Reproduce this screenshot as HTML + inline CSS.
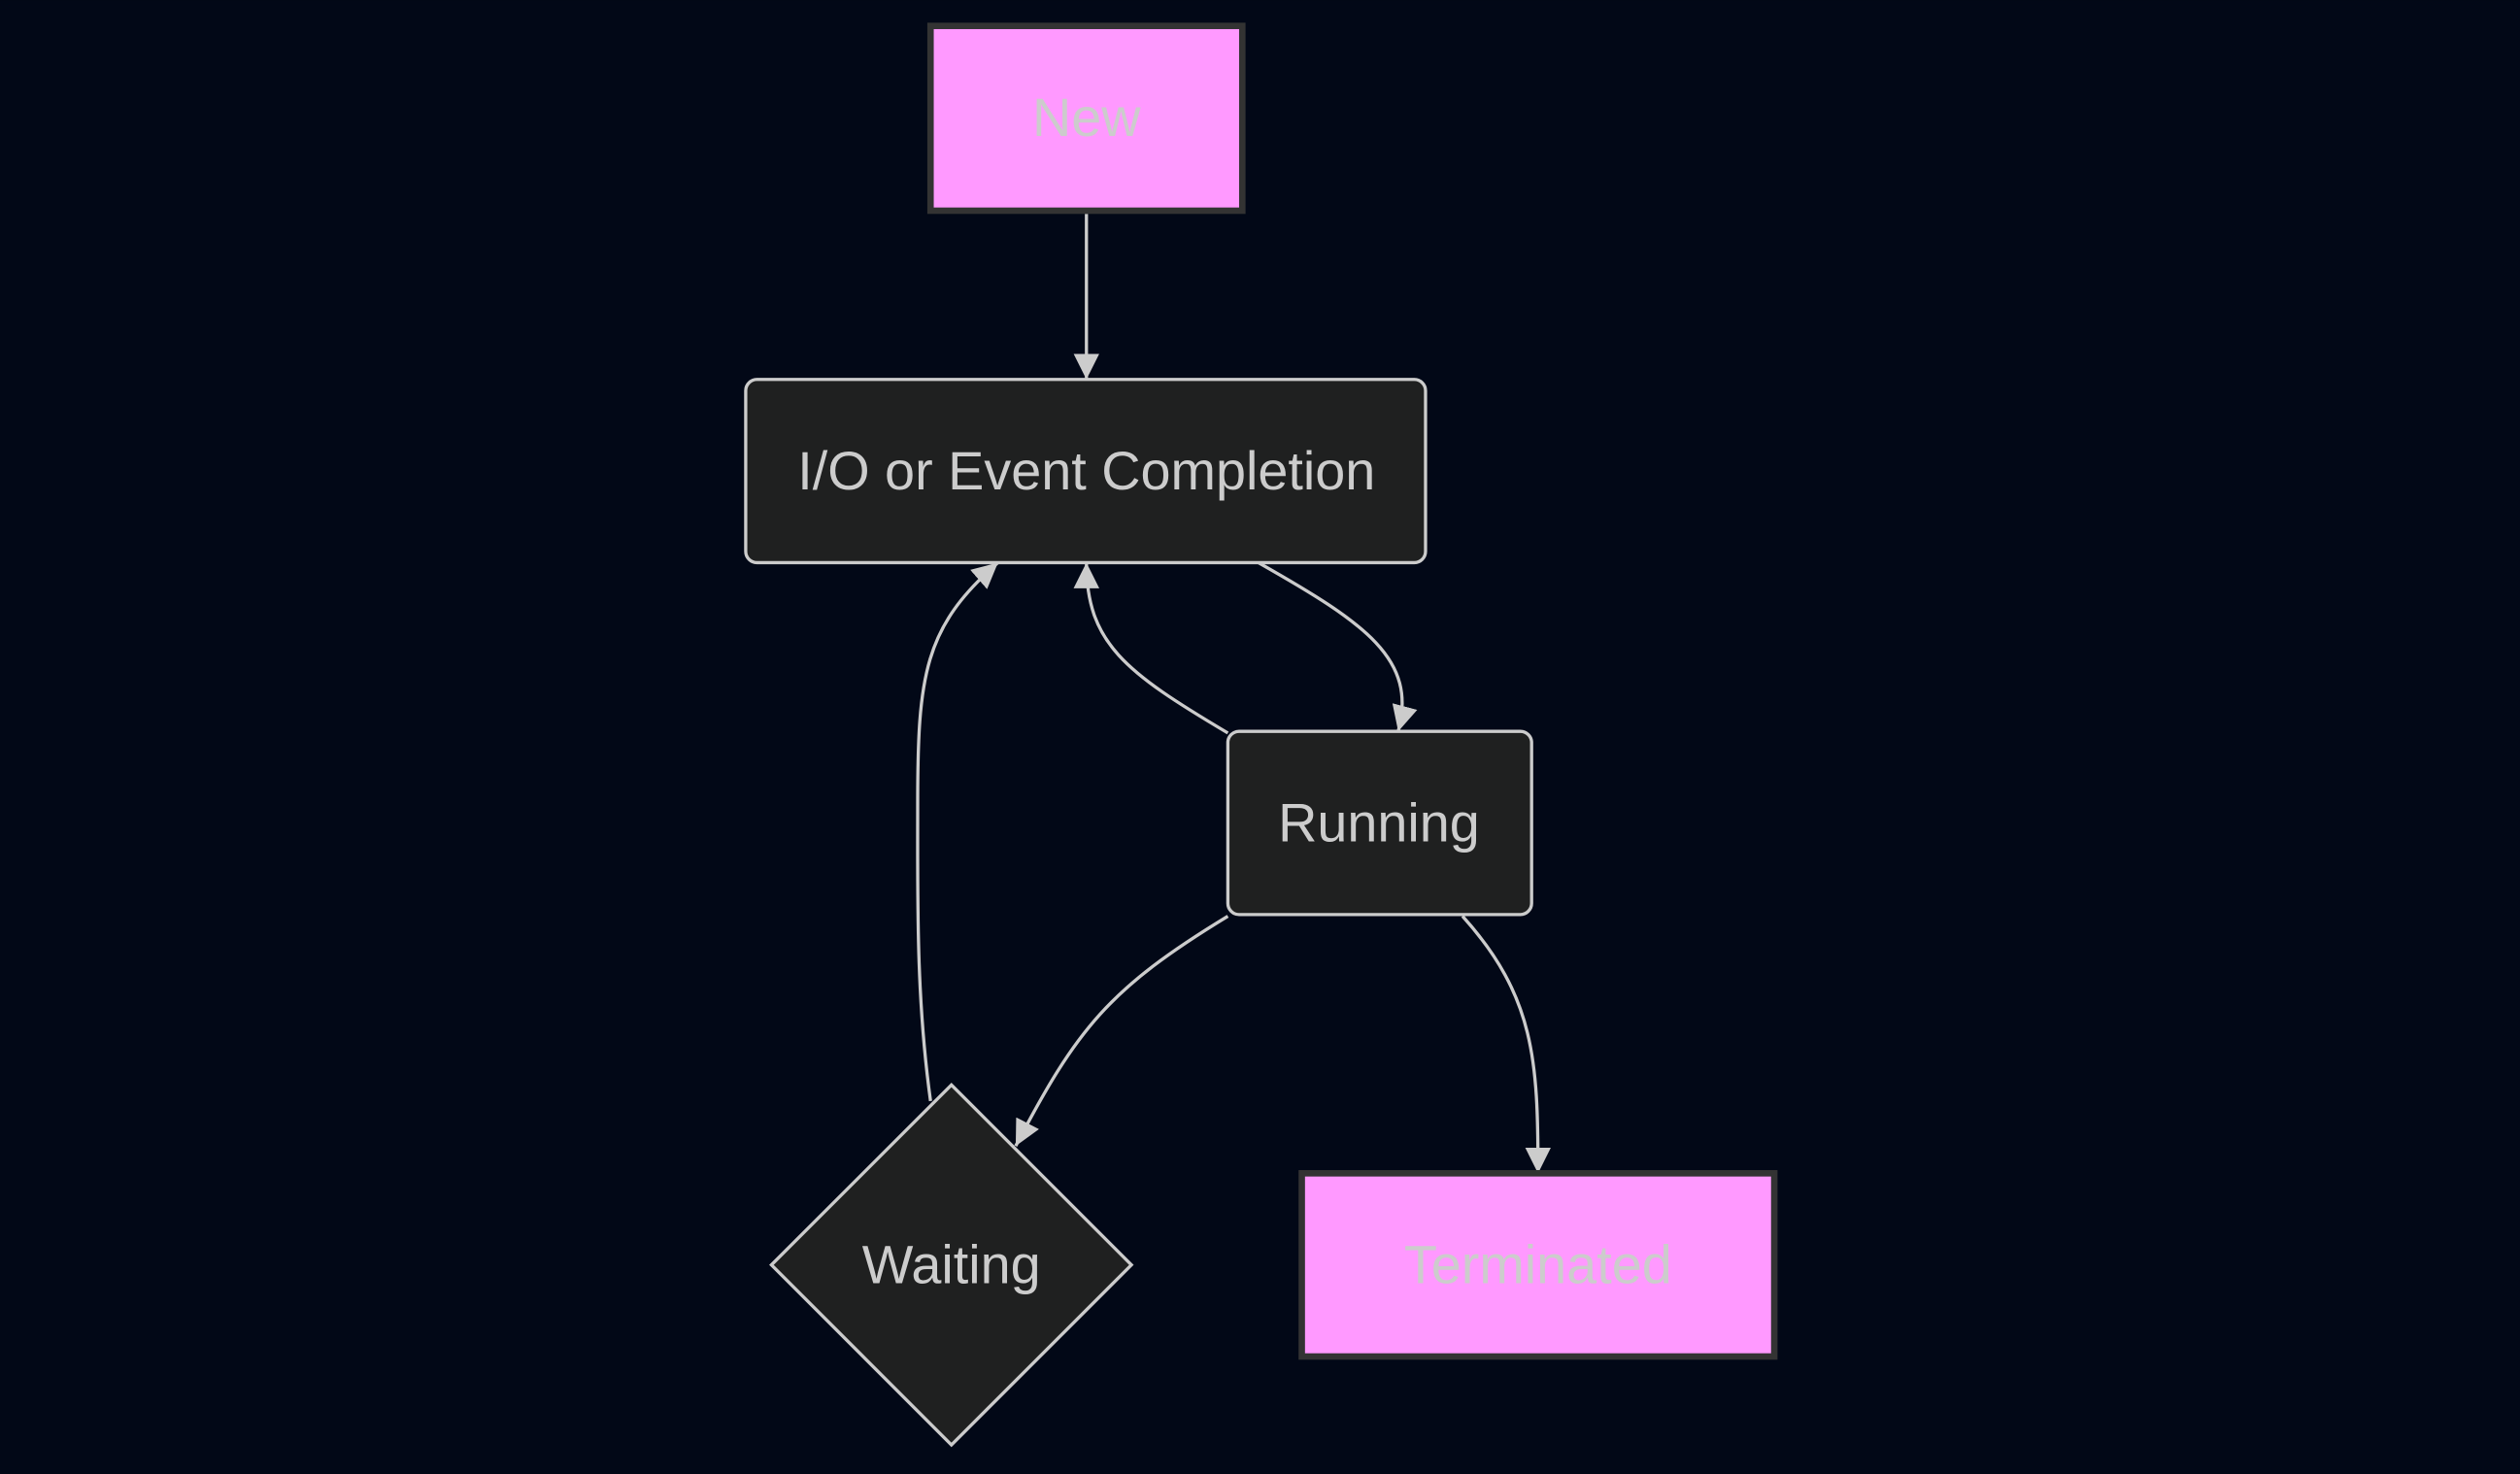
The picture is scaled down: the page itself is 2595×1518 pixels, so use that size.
<!DOCTYPE html>
<html><head><meta charset="utf-8"><style>
html,body{margin:0;padding:0;background:#020817;}
svg{display:block;}
text{font-family:"Liberation Sans",Arial,sans-serif;font-size:33.7px;fill:#cccccc;text-anchor:middle;dominant-baseline:central;}
</style></head><body>
<svg width="2595" height="1518" viewBox="0 0 1568 917" xmlns="http://www.w3.org/2000/svg">
<defs>
<marker id="b" viewBox="0 0 10 10" refX="10" refY="5" markerWidth="16" markerHeight="16" markerUnits="userSpaceOnUse" orient="auto"><path d="M0,0L10,5L0,10z" fill="#cccccc"/></marker></defs>
<rect width="1568" height="917" fill="#020817"/>
<g fill="none" stroke="#cccccc" stroke-width="2">
<path d="M676,133 L676,236" marker-end="url(#b)"/>
<path d="M783,350 C850,388 882,410 870,455" marker-end="url(#b)"/>
<path d="M764,456 C700,418 676,400 676,350" marker-end="url(#b)"/>
<path d="M764,570 C690,615 670,640 632,713" marker-end="url(#b)"/>
<path d="M910,570 C955,620 957,660 957,730" marker-end="url(#b)"/>
<path d="M579,685 C570,620 571,560 571,500 C571,420 575,390 621,350" marker-end="url(#b)"/>
</g>
<rect x="579" y="16" width="194" height="115" fill="#ff99ff" stroke="#333" stroke-width="4"/>
<text x="676" y="73">New</text>
<rect x="464" y="236" width="423" height="114" rx="7" fill="#1f2020" stroke="#cccccc" stroke-width="2"/>
<text x="676" y="293">I/O or Event Completion</text>
<rect x="764" y="455" width="189" height="114" rx="7" fill="#1f2020" stroke="#cccccc" stroke-width="2"/>
<text x="858" y="512">Running</text>
<path d="M592,675 L704,787 L592,899 L480,787 Z" fill="#1f2020" stroke="#cccccc" stroke-width="2"/>
<text x="592" y="787">Waiting</text>
<rect x="810" y="730" width="294" height="114" fill="#ff99ff" stroke="#333" stroke-width="4"/>
<text x="957" y="787">Terminated</text>
</svg>
</body></html>
